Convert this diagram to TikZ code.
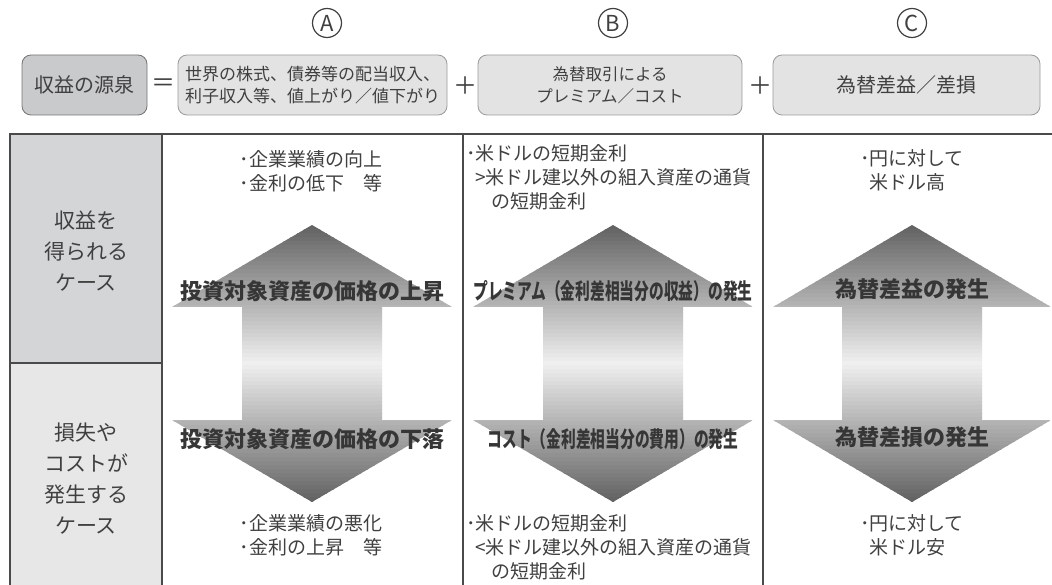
\documentclass[tikz,border=0pt]{standalone}
\usepackage{fontspec}
\setmainfont{Noto Sans CJK JP}
\usetikzlibrary{positioning}

\definecolor{rulegray}{HTML}{4A4A4A}
\definecolor{boxline}{HTML}{9A9A9A}
\definecolor{boxfill}{HTML}{E3E3E3}
\definecolor{srcfill}{HTML}{C9CACC}
\definecolor{gaincell}{HTML}{D3D5D7}
\definecolor{losscell}{HTML}{E7E7E7}
\definecolor{txtgray}{HTML}{404040}
\definecolor{labgray}{HTML}{363636}

\tikzset{
  partbox/.style={draw=boxline, fill=boxfill, rounded corners=9pt, minimum height=60pt,
    line width=0.8pt, inner sep=0pt, text=txtgray, align=center},
  letter/.style={circle, draw=txtgray, line width=1.2pt, minimum size=29pt, inner sep=0pt,
    font=\fontsize{22}{22}\selectfont, text=txtgray},
  op/.style={text=txtgray, font=\fontsize{24}{24}\selectfont, inner sep=0pt},
  note/.style={text=txtgray, align=left, inner sep=0pt, font=\fontsize{19}{24}\selectfont},
  casetxt/.style={text=txtgray, align=center, inner sep=0pt, font=\fontsize{21}{31}\selectfont},
  result/.style={text=labgray, inner sep=0pt, font=\bfseries\fontsize{22}{22}\selectfont},
}

\begin{document}
\begin{tikzpicture}[x=1pt,y=-1pt]
  \useasboundingbox (0,0) rectangle (1052,585);

  % top row: source of return = A + B + C
  \node[letter] (circA) at (327,23) {A};
  \node[letter] (circB) at (613,23) {B};
  \node[letter] (circC) at (912,23) {C};

  \node[partbox, fill=srcfill, draw=black!55, minimum width=125pt,
        font=\fontsize{20}{20}\selectfont] (src) at (84.5,85) {収益の源泉};
  \node[op] (eq) at (163,85) {＝};
  \node[partbox, minimum width=269pt, font=\fontsize{17}{22}\selectfont] (partA) at (312.5,85)
    {世界の株式、債券等の配当収入、\\利子収入等、値上がり／値下がり};
  \node[op] (plusAB) at (465,86) {＋};
  \node[partbox, minimum width=264pt, font=\fontsize{16.5}{22}\selectfont] (partB) at (610,85)
    {為替取引による\\プレミアム／コスト};
  \node[op] (plusBC) at (760,86) {＋};
  \node[partbox, minimum width=267pt, font=\fontsize{20}{20}\selectfont] (partC) at (906.5,85)
    {為替差益／差損};

  % table
  \fill[gaincell] (10,134) rectangle (162,363);
  \fill[losscell] (10,363) rectangle (162,590);
  \draw[rulegray, line width=1.8pt] (10,590) -- (10,134) -- (1052,134);
  \foreach \xx in {162,463,763}
    \draw[rulegray, line width=1.6pt] (\xx,134) -- (\xx,590);
  \draw[rulegray, line width=1.6pt] (10,363) -- (162,363);

  \node[casetxt] (gaincase) at (86,251) {収益を\\得られる\\ケース};
  \node[casetxt] (losscase) at (86,479) {損失や\\コストが\\発生する\\ケース};

  % big up/down arrows, dark at the tips and light in the middle
  \foreach \cx/\hw in {312/140,613/140,912/139}{
    \begin{scope}
      \clip (\cx,225) -- (\cx+\hw,307) -- (\cx+70,307) -- (\cx+70,420)
        -- (\cx+\hw,420) -- (\cx,502) -- (\cx-\hw,420) -- (\cx-70,420)
        -- (\cx-70,307) -- (\cx-\hw,307) -- cycle;
      \foreach \k in {0,...,69}{
        \pgfmathsetmacro\shadelev{6+56*abs(\k*4+2-138.5)/138.5}
        \fill[black!\shadelev] (\cx-\hw,225+\k*4) rectangle (\cx+\hw,229.6+\k*4);
      }
    \end{scope}
  }

  % column A
  \node[note] (upA) at (311,171) {･企業業績の向上\\･金利の低下　等};
  \node[result] (gainA) at (312,291) {投資対象資産の価格の上昇};
  \node[result] (lossA) at (312,439) {投資対象資産の価格の下落};
  \node[note] (downA) at (311,535) {･企業業績の悪化\\･金利の上昇　等};

  % column B
  \node[note, anchor=west] (upB) at (466,177.5)
    {･米ドルの短期金利\\\hspace{9pt}>米ドル建以外の組入資産の通貨\\\hspace{25pt}の短期金利};
  \node[result] (gainB) at (613,291) {\scalebox{0.67}[1]{プレミアム（金利差相当分の収益）の発生}};
  \node[result] (lossB) at (613,439) {\scalebox{0.67}[1]{コスト（金利差相当分の費用）の発生}};
  \node[note, anchor=west] (downB) at (466,547.5)
    {･米ドルの短期金利\\\hspace{9pt}<米ドル建以外の組入資産の通貨\\\hspace{25pt}の短期金利};

  % column C
  \node[note] (upC) at (912,170) {･円に対して\\\hspace{9pt}米ドル高};
  \node[result] (gainC) at (912,289) {為替差益の発生};
  \node[result] (lossC) at (912,437) {為替差損の発生};
  \node[note] (downC) at (912,535) {･円に対して\\\hspace{9pt}米ドル安};
\end{tikzpicture}
\end{document}
